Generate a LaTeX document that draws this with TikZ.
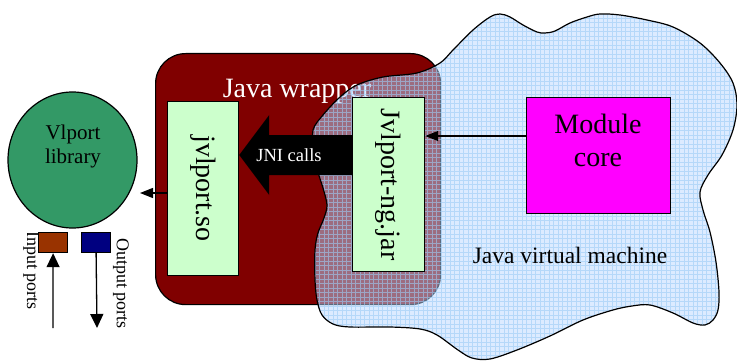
\documentclass[tikz,border=0pt]{standalone}
\usepackage{fontspec}
\setmainfont{Liberation Serif}
\usetikzlibrary{arrows.meta,shapes.geometric,calc}
\definecolor{wrapred}{HTML}{800000}
\definecolor{libgreen}{HTML}{339966}
\definecolor{boxgreen}{HTML}{CCFFCC}
\definecolor{inbrown}{HTML}{993300}
\definecolor{outblue}{HTML}{000080}
\definecolor{coremag}{HTML}{FF00FF}
\definecolor{jvmblue}{RGB}{185,216,255}
\definecolor{gridblue}{HTML}{9CCBF5}
\begin{document}
\begin{tikzpicture}[x=1pt,y=-1pt,
  outline/.style={draw=black,line width=1.2pt},
  compbox/.style={outline,fill=boxgreen,inner sep=0pt,anchor=north west},
  bigtext/.style={font=\fontsize{28}{33}\selectfont},
  arr/.style={line width=1.3pt,-{Triangle[length=13pt,width=10pt]}},
  bigarr/.style={line width=1.3pt,-{Triangle[length=14pt,width=13pt]}},
]
\useasboundingbox (0,0) rectangle (737,361);

% Java wrapper
\node[outline, fill=wrapred, rounded corners=30pt, minimum width=285pt, minimum height=251pt, anchor=north west, inner sep=0pt] (wrap) at (155,53) {};
\node[white, bigtext, anchor=base, inner sep=0pt] (wraptext) at (297,98) {Java wrapper};

% Java virtual machine cloud
\draw[line width=1.2pt, fill=jvmblue, fill opacity=0.5,
  path picture={\draw[gridblue, line width=0.4pt, draw opacity=0.6]
    (path picture bounding box.north west) grid[step=4.5pt] (path picture bounding box.south east);}]
  plot[smooth cycle, tension=0.55] coordinates {
  (313,130) (323,115) (340,97) (357,85) (383,77) (417,73) (440,63) (453,50) (473,30) (490,17) (500,14) (510,17) (523,25) (537,32) (545,33) (555,31) (570,23) (587,17) (600,14) (620,15) (647,20) (673,27) (700,43) (720,63) (733,83) (737,105) (733,130) (722,155) (708,175) (700,192) (703,210) (710,232) (716,262) (719,292) (718,310) (713,320) (705,325) (693,323) (673,313) (650,305) (632,306) (613,310) (583,320) (550,336) (517,350) (490,359) (472,358) (458,350) (437,335) (420,329) (390,327) (350,327) (333,324) (322,315) (317,300) (315,280) (315,250) (318,233) (324,218) (327,205) (323,188) (318,172) (314,150)};
\node[font=\fontsize{23.5}{28}\selectfont, anchor=base, inner sep=0pt] (jvmtext) at (570,263) {Java virtual machine};

% component boxes
\node[compbox, minimum width=71pt, minimum height=174pt] (so) at (167,101) {};
\node[bigtext, rotate=-90, inner sep=0pt] (sotext) at (so.center) {jvlport.so};
\node[compbox, minimum width=72pt, minimum height=174pt] (jar) at (352,97) {};
\node[bigtext, rotate=-90, inner sep=0pt] (jartext) at (jar.center) {Jvlport-ng.jar};
\node[outline, fill=coremag, minimum width=144pt, minimum height=116pt, anchor=north west, inner sep=0pt] (core) at (526,97) {};
\node[bigtext, align=center, inner sep=0pt] (coretext) at (598,140) {Module\\core};

% JNI calls block arrow
\coordinate (jnimid) at (0,155);
\fill[black] (so.east |- jnimid) -- ($(so.east |- jnimid)+(30,-40)$) -- ($(so.east |- jnimid)+(30,-20)$)
  -- ($(jar.west |- jnimid)+(0,-20)$) -- ($(jar.west |- jnimid)+(0,20)$)
  -- ($(so.east |- jnimid)+(30,20)$) -- ($(so.east |- jnimid)+(30,40)$) -- cycle;
\node[white, font=\fontsize{18.5}{22}\selectfont, anchor=base, inner sep=0pt] (jnitext) at (289,161) {JNI calls};

% core -> jar
\coordinate (c136) at (0,136);
\draw[arr] (core.west |- c136) -- (jar.east |- c136);

% Vlport library
\node[outline, fill=libgreen, ellipse, minimum width=129pt, minimum height=136pt, inner sep=0pt] (lib) at (72.5,160) {};
\node[font=\fontsize{21}{24}\selectfont, align=center, inner sep=0pt] (libtext) at (73,146) {Vlport\\library};

% jvlport.so -> library
\coordinate (libin) at (140,193);
\draw[arr] (so.west |- libin) -- (libin);

% ports
\node[outline, fill=inbrown, minimum width=29pt, minimum height=20pt, anchor=north west, inner sep=0pt] (inport) at (38,232) {};
\node[outline, fill=outblue, minimum width=29pt, minimum height=20pt, anchor=north west, inner sep=0pt] (outport) at (81,232) {};
\coordinate (inbot) at (53,328);
\coordinate (outbot) at (97,328);
\draw[bigarr] (inbot) -- (inport.south);
\draw[bigarr] (outport.south) -- (outbot);
\begin{scope}
\clip (0,233) rectangle (37,361);
\node[font=\fontsize{18}{21}\selectfont, rotate=-90, anchor=east, inner sep=0pt] (intext) at (31,310) {Input ports};
\end{scope}
\node[font=\fontsize{18}{21}\selectfont, rotate=-90, anchor=west, inner sep=0pt] (outtext) at (121,238) {Output ports};
\end{tikzpicture}
\end{document}
